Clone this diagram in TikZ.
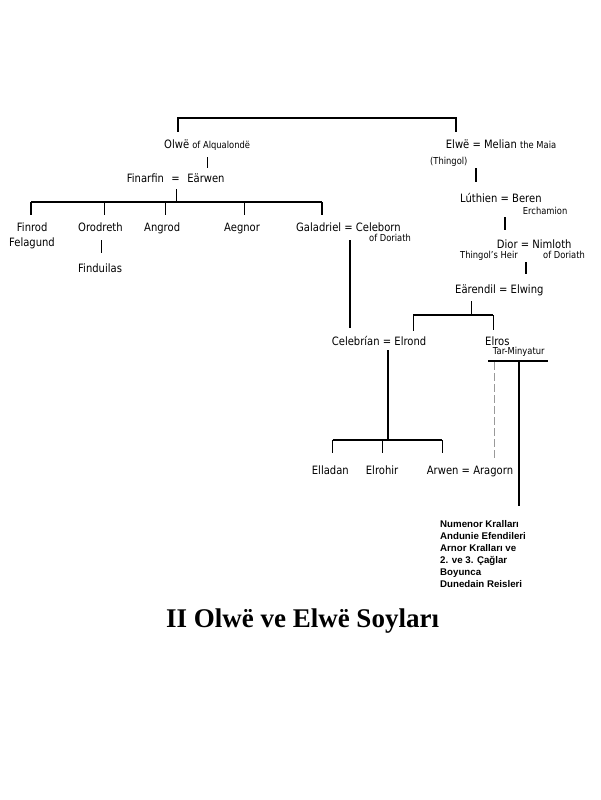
\documentclass[tikz,border=0pt]{standalone}
\usepackage{fontspec}
\setmainfont{DejaVu Sans}[FakeStretch=0.87]
\newfontfamily\blockfont{Liberation Sans}
\newfontfamily\titlefont{Liberation Serif}
\newcommand{\smtxt}{\fontsize{9.6}{11}\selectfont}
\begin{document}
\begin{tikzpicture}[x=1pt,y=-1pt,
  lbl/.style={inner sep=0pt, anchor=base west, font=\fontsize{11.5}{13}\selectfont},
  clbl/.style={inner sep=0pt, anchor=base, font=\fontsize{11.5}{13}\selectfont},
  sm/.style={inner sep=0pt, anchor=base west, font=\smtxt},
  thin/.style={line width=1.3pt},
  bar/.style={line width=1.8pt},
  thick2/.style={line width=2pt},
  dashline/.style={line width=1.2pt, draw=black!40, dash pattern=on 8pt off 3pt}]
\useasboundingbox (0,0) rectangle (600,800);
\fill[white] (0,0) rectangle (600,800);

% ---- texts
\node[lbl] (olwe) at (164,148) {Olwë {\smtxt of Alqualondë}};
\node[lbl] (finarfin) at (126.7,182) {Finarfin\hspace{7.5pt}=\hspace{7.5pt}Eärwen};
\node[clbl] (finrod) at (32.2,231) {Finrod};
\node[clbl] (felagund) at (32,246) {Felagund};
\node[lbl] (orodreth) at (78,231) {Orodreth};
\node[lbl] (angrod) at (144,231) {Angrod};
\node[lbl] (aegnor) at (224,231) {Aegnor};
\node[lbl] (galadriel) at (296,231) {Galadriel = Celeborn};
\node[sm] (gdoriath) at (369,241) {of Doriath};
\node[lbl] (finduilas) at (78,272) {Finduilas};

\node[lbl] (elwe) at (445.7,148) {Elwë = Melian {\smtxt the Maia}};
\node[sm] (thingol) at (430,164) {(Thingol)};
\node[lbl] (luthien) at (460,202) {Lúthien = Beren};
\node[sm] (erchamion) at (522.7,214) {Erchamion};
\node[lbl] (dior) at (496.7,248) {Dior = Nimloth};
\node[sm] (heir) at (460,258) {Thingol's Heir};
\node[sm] (ndoriath) at (543,258) {of Doriath};
\node[lbl] (earendil) at (455,293) {Eärendil = Elwing};
\node[lbl] (celebrian) at (331.7,345) {Celebrían = Elrond};
\node[lbl] (elros) at (485,345) {Elros};
\node[sm] (tarmin) at (492.7,354) {Tar-Minyatur};
\node[lbl] (elladan) at (311.7,474) {Elladan};
\node[lbl] (elrohir) at (365.7,474) {Elrohir};
\node[lbl] (arwen) at (426.7,474) {Arwen = Aragorn};

\node[inner sep=0pt, anchor=north west, align=left,
  font=\blockfont\bfseries\fontsize{9.7}{12}\selectfont] (block) at (440,520)
  {Numenor Kralları\\Andunie Efendileri\\Arnor Kralları ve\\2. ve 3. Çağlar\\Boyunca\\Dunedain Reisleri};

\node[inner sep=0pt, anchor=base, font=\titlefont\bfseries\fontsize{27}{30}\selectfont] (title) at (302.5,627)
  {II Olwë ve Elwë Soyları};

% ---- connector points
\coordinate (tl) at (178,131.7);
\coordinate (tr) at (456,131.7);
\coordinate (o1) at (207.5,157);
\coordinate (o2) at (207.5,168);
\coordinate (f1) at (176.7,189);
\coordinate (f2) at (176.7,202);
\coordinate (cbl) at (31,202);
\coordinate (cbr) at (322,202);
\coordinate (od1) at (101.7,240);
\coordinate (od2) at (101.7,253);
\coordinate (g1) at (350,240);
\coordinate (g2) at (350,328);
\coordinate (e1) at (476,168);
\coordinate (e2) at (476,182);
\coordinate (l1) at (505,217);
\coordinate (l2) at (505,230);
\coordinate (d1) at (526,262);
\coordinate (d2) at (526,274);
\coordinate (ea1) at (471.7,301);
\coordinate (ea2) at (471.7,315);
\coordinate (eb1) at (413.3,315);
\coordinate (eb2) at (493.3,315);
\coordinate (er1) at (388.3,350);
\coordinate (er2) at (388.3,440);
\coordinate (cb1) at (332.7,440);
\coordinate (cb2) at (442.3,440);
\coordinate (ds1) at (494.3,362);
\coordinate (ds2) at (494.3,458);
\coordinate (rb1) at (488,361);
\coordinate (rb2) at (548,361);
\coordinate (rv1) at (519.3,361);
\coordinate (rv2) at (519.3,506);

% ---- lines
\draw[thick2] (tl) |- (tr |- 0,118) -- (tr);
\draw[thin] (o1) -- (o2);
\draw[thin] (f1) -- (f2);
\draw[bar] (cbl) -- (cbr);
\foreach \xx in {31,104.5,165.7,244.3,322}
  \draw[thin] (\xx,202) -- (\xx,215);
\draw[thin] (od1) -- (od2);
\draw[thick2] (g1) -- (g2);
\draw[thin] (e1) -- (e2);
\draw[thin] (l1) -- (l2);
\draw[thin] (d1) -- (d2);
\draw[thin] (ea1) -- (ea2);
\draw[bar] (eb1) -- (eb2);
\draw[thin] (eb1) -- ++(0,15.5);
\draw[thin] (eb2) -- ++(0,15);
\draw[thick2] (er1) -- (er2);
\draw[bar] (cb1) -- (cb2);
\foreach \xx in {332.7,382.7,442.3}
  \draw[thin] (\xx,440) -- (\xx,453);
\draw[dashline] (ds1) -- (ds2);
\draw[thick2] (rb1) -- (rb2);
\draw[thick2] (rv1) -- (rv2);
\end{tikzpicture}
\end{document}
